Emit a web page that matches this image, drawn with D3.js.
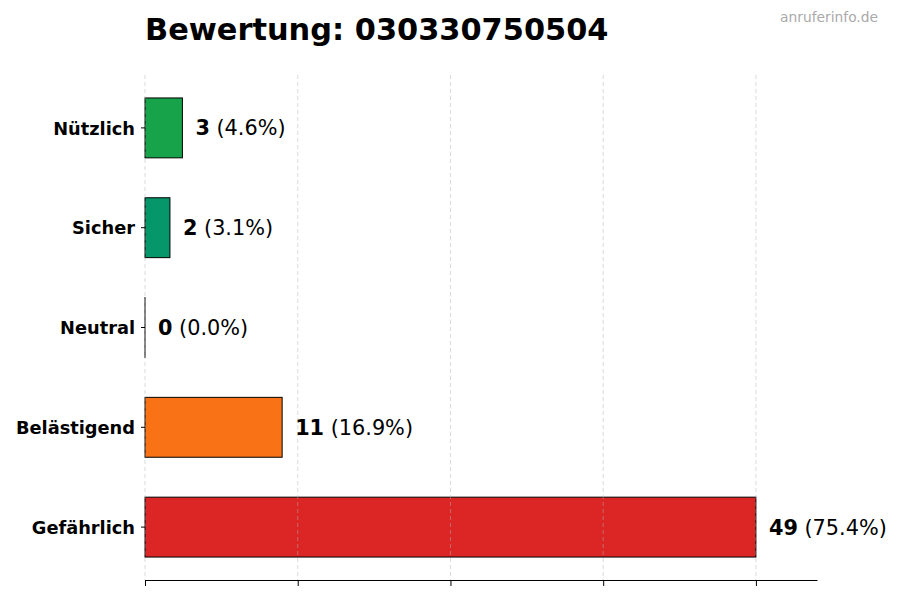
<!DOCTYPE html>
<html>
<head>
<meta charset="utf-8">
<script src="https://cdn.jsdelivr.net/npm/d3@7"></script>
<style>
  body { margin: 0; background: #fff; }
  text { font-family: "DejaVu Sans", sans-serif; }
</style>
</head>
<body>
<script>
// Chart data
var categories = ["Nützlich", "Sicher", "Neutral", "Belästigend", "Gefährlich"];
var counts = [3, 2, 0, 11, 49];
var percents = ["4.6%", "3.1%", "0.0%", "16.9%", "75.4%"];
var barColors = ["#16a34a", "#059669", "#6b7280", "#f97316", "#dc2626"];
var xTicks = [0, 12.25, 24.5, 36.75, 49];
var titleText = "Bewertung: 030330750504";
var watermark = "anruferinfo.de";

var svgWidth = 900;
var svgHeight = 600;

var chartMargin = { top: 75, right: 83, bottom: 20, left: 145 };
var chartWidth = svgWidth - chartMargin.left - chartMargin.right;
var chartHeight = svgHeight - chartMargin.top - chartMargin.bottom;

var svg = d3.select("body")
  .append("svg")
  .attr("width", svgWidth)
  .attr("height", svgHeight);

var chartGroup = svg.append("g")
  .attr("transform", `translate(${chartMargin.left}, ${chartMargin.top})`);

var maxCount = d3.max(counts);

// x scale leaves 10% room on the right for the labels
var xScale = d3.scaleLinear()
  .domain([0, maxCount * 1.1])
  .range([0, chartWidth]);

// band scale: bar height 0.6 of the step, plus small outer margins
var yScale = d3.scaleBand()
  .domain(categories)
  .range([0, chartHeight])
  .paddingInner(0.4)
  .paddingOuter(0.23);

// bars (zero bars still show their outline)
chartGroup.selectAll(".bar")
  .data(counts)
  .enter()
  .append("rect")
  .attr("class", "bar")
  .attr("x", xScale(0))
  .attr("y", (d, i) => yScale(categories[i]))
  .attr("width", d => Math.max(xScale(d) - xScale(0), 0.01))
  .attr("height", yScale.bandwidth())
  .attr("fill", (d, i) => barColors[i])
  .attr("stroke", "#000")
  .attr("stroke-width", 1);

// dashed vertical grid, drawn over the bars
chartGroup.selectAll(".grid")
  .data(xTicks)
  .enter()
  .append("line")
  .attr("class", "grid")
  .attr("x1", d => xScale(d))
  .attr("x2", d => xScale(d))
  .attr("y1", 0)
  .attr("y2", chartHeight)
  .attr("stroke", "#b0b0b0")
  .attr("stroke-opacity", 0.6)
  .attr("stroke-width", 0.8)
  .attr("stroke-dasharray", "4,3");

// value labels
var labels = chartGroup.selectAll(".value")
  .data(counts)
  .enter()
  .append("text")
  .attr("class", "value")
  .attr("x", d => xScale(d) + 13)
  .attr("y", (d, i) => yScale(categories[i]) + yScale.bandwidth() / 2)
  .attr("dy", "0.36em")
  .style("font-size", "20.8px")
  .attr("fill", "#000");

labels.append("tspan")
  .style("font-weight", "bold")
  .text(d => d);

labels.append("tspan")
  .text((d, i) => " (" + percents[i] + ")");

// bottom axis, ticks without labels
var bottomAxis = d3.axisBottom(xScale)
  .tickValues(xTicks)
  .tickFormat("")
  .tickSizeInner(6)
  .tickSizeOuter(0);

var xAxisGroup = chartGroup.append("g")
  .attr("transform", `translate(0, ${chartHeight})`)
  .call(bottomAxis);
xAxisGroup.select(".domain").attr("stroke", "#000").attr("stroke-width", 1);
xAxisGroup.selectAll(".tick line").attr("stroke", "#000").attr("stroke-width", 1);

// left axis, no spine
var leftAxis = d3.axisLeft(yScale)
  .tickSizeInner(4)
  .tickSizeOuter(0)
  .tickPadding(6);

var yAxisGroup = chartGroup.append("g")
  .call(leftAxis);
yAxisGroup.select(".domain").remove();
yAxisGroup.selectAll(".tick line").attr("stroke", "#000");
yAxisGroup.selectAll(".tick text")
  .attr("dy", "0.38em")
  .style("font-family", "DejaVu Sans, sans-serif")
  .style("font-size", "17.8px")
  .style("font-weight", "bold")
  .attr("fill", "#000");

// title
svg.append("text")
  .attr("x", chartMargin.left)
  .attr("y", 40)
  .style("font-size", "30.4px")
  .style("font-weight", "bold")
  .attr("fill", "#000")
  .text(titleText);

// watermark
svg.append("text")
  .attr("x", 878)
  .attr("y", 22)
  .attr("text-anchor", "end")
  .style("font-size", "13.8px")
  .attr("fill", "#aaaaaa")
  .text(watermark);
</script>
</body>
</html>
